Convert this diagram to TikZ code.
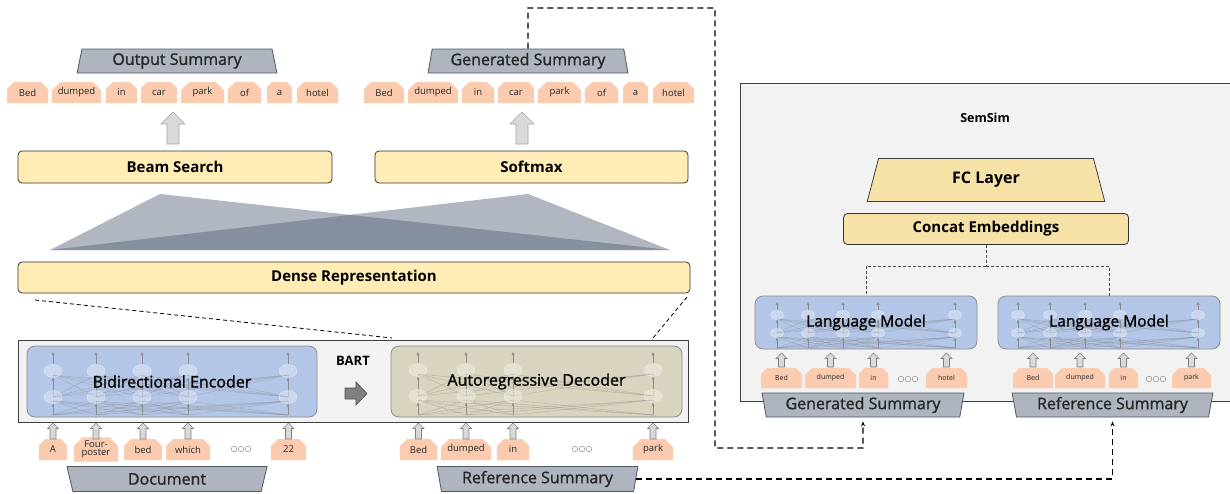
\documentclass[tikz,border=0pt]{standalone}
\usepackage{fontspec}
\setmainfont{Open Sans}
\newfontfamily\mediumfont[FakeBold=1.2]{Open Sans}
\usetikzlibrary{shapes.geometric,shapes.misc,arrows.meta}

\definecolor{tokfill}{RGB}{251,203,176}
\definecolor{trapfill}{RGB}{174,181,190}
\definecolor{trapline}{RGB}{80,88,98}
\definecolor{yelfill}{RGB}{255,237,181}
\definecolor{fcfill}{RGB}{246,225,166}
\definecolor{bluefill}{RGB}{180,198,231}
\definecolor{khakifill}{RGB}{217,212,191}
\definecolor{panelfill}{RGB}{242,242,242}
\definecolor{triafill}{RGB}{77,92,113}

\tikzset{
  tok/.style={chamfered rectangle, chamfered rectangle corners={north west,north east},
    chamfered rectangle xsep=5pt, fill=tokfill, draw=tokfill!70!white, inner sep=0pt,
    minimum height=21pt, align=center, text=black!85, font=\fontsize{9.5}{10}\selectfont},
  smalltok/.style={tok, minimum height=20pt, font=\fontsize{7}{8}\selectfont},
  trap/.style={trapezium, trapezium stretches=true, trapezium left angle=78, trapezium right angle=78,
    fill=trapfill, draw=trapline, line width=0.8pt, minimum height=24pt, inner sep=0pt,
    text=black!85, font=\mediumfont\fontsize{16}{18}\selectfont},
  invtrap/.style={trap, shape border rotate=180},
  ybox/.style={rectangle, rounded corners=4pt, fill=yelfill, draw=black!80, line width=0.8pt,
    minimum height=32pt, inner sep=0pt, font=\bfseries\fontsize{15}{17}\selectfont},
  panel/.style={rectangle, fill=panelfill, draw=black!75, line width=0.8pt, inner sep=0pt},
  netbox/.style={rectangle, rounded corners=8pt, draw=black!45, line width=0.8pt, inner sep=0pt},
  netlabel/.style={inner sep=0pt, font=\mediumfont\fontsize{16}{18}\selectfont},
  bigarrow/.style={fill=black!15, draw=black!35, line width=0.6pt},
  inarrow/.style={fill=black!15, draw=black!50, line width=0.6pt},
  cell/.style={ellipse, fill=white, fill opacity=0.3, draw=white, draw opacity=0.5, inner sep=0pt},
  cellline/.style={black!55, opacity=0.35, line width=0.4pt},
  cellarrow/.style={black!45, line width=0.4pt, -{Latex[length=3pt,width=3pt]}},
  thindash/.style={black, line width=0.8pt, dash pattern=on 4pt off 3pt},
  dashconn/.style={black, line width=1.4pt, dash pattern=on 6pt off 4pt, -{Stealth[length=5pt,width=4pt]}, shorten >=4pt}
}

% hollow block arrow pointing up: x, bottom y, tip y, shaft half width, head half width, style
\newcommand{\blockup}[6]{%
  \draw[#6] (#1-#4,#2) -- (#1-#4,#3+#5) -- (#1-#5,#3+#5) -- (#1,#3) -- (#1+#5,#3+#5)
    -- (#1+#4,#3+#5) -- (#1+#4,#2) -- cycle;
}
% faint recurrent cells inside a network box
\newcommand{\cellgrid}[7]{%
  \foreach \cx in {#2} {
    \foreach \dx in {#2} {
      \draw[cellline] (\cx,#6) -- (\dx,#5+4);
      \draw[cellline] (\cx,#5) -- (\dx,#4+4);
    }
  }
  \foreach \cx [count=\k] in {#2} {
    \node[cell, #7] (#1-lo-\k) at (\cx,#5) {};
    \node[cell, #7] (#1-up-\k) at (\cx,#4) {};
    \draw[cellarrow] (\cx,#6) -- (#1-lo-\k);
    \draw[cellarrow] (#1-lo-\k) -- (#1-up-\k);
    \draw[cellarrow] (#1-up-\k) -- (\cx,#3);
  }
}
\newcommand{\dotdots}[2]{%
  \foreach \dd in {-7,0,7} \draw[black!40, line width=0.6pt] (#1+\dd,#2) circle (2.8);
}

\begin{document}
\begin{tikzpicture}[x=1pt, y=-1pt]
  \useasboundingbox (0,0) rectangle (1230,493);

  % Output side
  \node[trap, minimum width=200pt] (outsum) at (177,61) {Output Summary};
  \node[trap, minimum width=200pt] (gensum) at (528,61) {Generated Summary};
  \foreach \x/\w/\t [count=\i] in {27.5/41/Bed, 76.5/49/dumped, 121.5/31/in, 159/36/car,
      202.5/43/park, 244.5/33/of, 279.5/25/a, 317.5/41/hotel}
    \node[tok, minimum width=\w pt] (otok\i) at (\x,92.5) {\t};
  \foreach \x/\w/\t [count=\i] in {384/40/Bed, 433/50/dumped, 478/32/in, 516/36/car,
      559.5/43/park, 601.5/33/of, 635.5/25/a, 673.5/41/hotel}
    \node[tok, minimum width=\w pt] (gtok\i) at (\x,92.5) {\t};

  \blockup{173}{144}{112}{6}{12}{bigarrow}
  \blockup{522}{144}{112}{6}{12}{bigarrow}

  \node[ybox, minimum width=314pt] (beam) at (175,167) {Beam Search};
  \node[ybox, minimum width=313pt] (softmax) at (531.5,167) {Softmax};

  % Crossing projections
  \fill[triafill, fill opacity=0.44] (160,194) -- (670,250) -- (50,250) -- cycle;
  \fill[triafill, fill opacity=0.44] (528,194) -- (670,250) -- (50,250) -- cycle;

  \node[ybox, minimum width=672pt, minimum height=31pt] (dense) at (354,277.5) {Dense Representation};

  % Zoom lines into BART
  \coordinate (zoomA) at (35,300);
  \coordinate (zoomB) at (392,338);
  \coordinate (zoomC) at (687,297);
  \coordinate (zoomD) at (653,338);
  \draw[thindash] (zoomA) -- (zoomB);
  \draw[thindash] (zoomC) -- (zoomD);

  % BART
  \node[panel, minimum width=670pt, minimum height=82pt] (bart) at (353,381) {};
  \node[netbox, fill=bluefill, minimum width=290pt, minimum height=71pt] (enc) at (172,381.5) {};
  \node[netbox, fill=khakifill, minimum width=291pt, minimum height=71pt] (dec) at (536.5,381.5) {};
  \cellgrid{ec}{53,96,142,188,288}{352}{371}{397}{415}{minimum width=18pt, minimum height=13pt}
  \cellgrid{dc}{418,466,513,653}{352}{370}{396}{415}{minimum width=18pt, minimum height=13pt}
  \node[netlabel] (enclabel) at (enc) {Bidirectional Encoder};
  \node[netlabel] (declabel) at (dec) {Autoregressive Decoder};
  \node[font=\bfseries\fontsize{13}{15}\selectfont] (bartlabel) at (353,361) {BART};
  \draw[fill=black!50, draw=black!70, line width=0.6pt] (345,388) -- (356,388) -- (356,382)
    -- (367,393.5) -- (356,405) -- (356,399) -- (345,399) -- cycle;

  % Inputs
  \foreach \x/\w/\t [count=\i] in {53/28/A, 96/44/{Four-\\[-2pt]poster}, 143/38/bed, 188/44/which, 288.5/35/22} {
    \node[tok, minimum width=\w pt] (etok\i) at (\x,449.5) {\t};
    \blockup{\x}{439}{423}{3}{5.5}{inarrow}
  }
  \dotdots{241}{449}
  \foreach \x/\w/\t [count=\i] in {418.5/37/Bed, 466/50/dumped, 513/32/in, 653/40/park} {
    \node[tok, minimum width=\w pt] (dtok\i) at (\x,449.5) {\t};
    \blockup{\x}{439}{423}{3}{5.5}{inarrow}
  }
  \dotdots{582}{449}

  \node[invtrap, minimum width=201pt, minimum height=25pt] (docsum) at (167,479) {Document};
  \node[invtrap, minimum width=201pt, minimum height=25pt] (refsum) at (537.5,479) {Reference Summary};

  % SemSim
  \node[panel, minimum width=500pt, minimum height=318pt] (semsim) at (990,242) {};
  \node[font=\bfseries\fontsize{12.5}{14}\selectfont] (semlabel) at (985,118) {SemSim};
  \node[trapezium, trapezium stretches=true, trapezium left angle=77, trapezium right angle=77,
    fill=fcfill, draw=black!75, line width=0.8pt, minimum width=239pt, minimum height=43pt,
    inner sep=0pt, font=\bfseries\fontsize{16}{18}\selectfont] (fc) at (986,180) {FC Layer};
  \node[ybox, fill=fcfill, minimum width=285pt, minimum height=31pt] (concat) at (986,229) {Concat Embeddings};

  \node[netbox, fill=bluefill, minimum width=222pt, minimum height=53pt] (lmA) at (866,322.5) {};
  \node[netbox, fill=bluefill, minimum width=222pt, minimum height=53pt] (lmB) at (1109,322.5) {};
  \cellgrid{la}{777,808,843,878,955}{302}{315}{333}{348}{minimum width=13pt, minimum height=9pt}
  \cellgrid{lb}{1018,1050,1085,1120,1198}{302}{315}{333}{348}{minimum width=13pt, minimum height=9pt}
  \node[netlabel, font=\mediumfont\fontsize{15.5}{17}\selectfont] (lmAlabel) at (lmA) {Language Model};
  \node[netlabel, font=\mediumfont\fontsize{15.5}{17}\selectfont] (lmBlabel) at (lmB) {Language Model};

  \coordinate (split) at (986,266);
  \draw[black!70, line width=0.6pt, densely dashed] (concat.south) -- (split);
  \draw[black!70, line width=0.6pt, densely dashed] (split) -| (lmA.north);
  \draw[black!70, line width=0.6pt, densely dashed] (split) -| (lmB.north);

  \foreach \x/\w/\t [count=\i] in {781.5/41/Bed, 830.5/51/dumped, 873.5/29/in, 946.5/41/hotel} {
    \node[smalltok, minimum width=\w pt] (atok\i) at (\x,378) {\t};
    \blockup{\x}{367}{353}{3}{5.5}{inarrow}
  }
  \dotdots{908}{379}
  \foreach \x/\w/\t [count=\i] in {1033/40/Bed, 1080/50/dumped, 1123.5/29/in, 1191.5/39/park} {
    \node[smalltok, minimum width=\w pt] (btok\i) at (\x,378) {\t};
    \blockup{\x}{367}{353}{3}{5.5}{inarrow}
  }
  \dotdots{1156}{379}

  \node[invtrap, minimum width=202pt] (semgen) at (863,405) {Generated Summary};
  \node[invtrap, minimum width=201pt] (semref) at (1112.5,405) {Reference Summary};

  % Feeding both summaries into SemSim
  \coordinate (topturn) at (715,8);
  \coordinate (lowturn) at (863,448);
  \draw[dashconn] (gensum.north) |- (topturn) |- (lowturn) -- (semgen.south);
  \draw[dashconn] (refsum.east) -| (semref.south);
\end{tikzpicture}
\end{document}
